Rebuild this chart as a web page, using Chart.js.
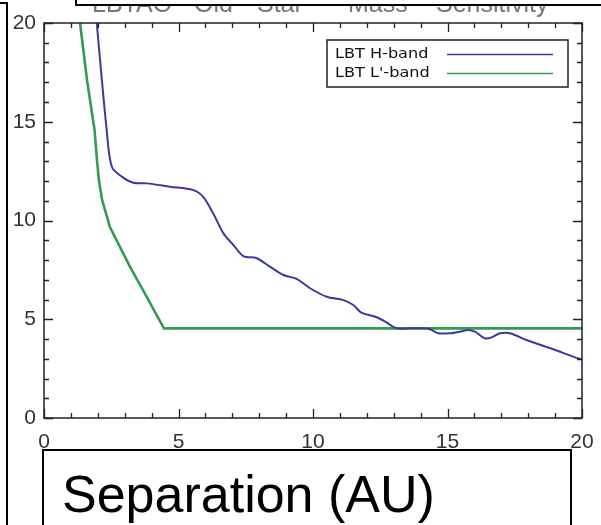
<!DOCTYPE html>
<html><head><meta charset="utf-8">
<script src="https://cdn.jsdelivr.net/npm/chart.js@4"></script>
<style>html,body{margin:0;padding:0;background:#fff;overflow:hidden;}</style>
</head><body>
<canvas id="c" width="601" height="525"></canvas>
<script>
// ---- data ----
const seriesNames = ["LBT H-band", "LBT L'-band"];
const hBandSep  = [1.96, 2.33, 2.52, 2.89, 3.32, 3.82, 4.68, 5.55, 5.92, 6.29, 6.67, 7.04, 7.41, 7.91, 8.40, 8.90, 9.39, 9.89, 10.51, 11.13, 11.50, 11.75, 11.87, 12.37, 12.74, 13.11, 13.61, 14.10, 14.35, 14.66, 15.09, 15.46, 15.77, 16.02, 16.39, 16.64, 16.95, 17.32, 17.94, 18.93, 19.86, 20.0];
const hBandMass = [20.0, 14.58, 12.72, 12.22, 11.91, 11.88, 11.71, 11.54, 11.20, 10.36, 9.35, 8.76, 8.20, 8.09, 7.66, 7.24, 7.04, 6.57, 6.14, 5.97, 5.72, 5.38, 5.30, 5.10, 4.83, 4.54, 4.54, 4.54, 4.49, 4.29, 4.29, 4.37, 4.46, 4.37, 4.03, 4.08, 4.29, 4.29, 3.95, 3.48, 3.02, 2.98];
const lBandSep  = [1.34, 1.60, 1.88, 1.97, 2.04, 2.16, 2.45, 2.94, 3.20, 3.68, 4.46, 20.0];
const lBandMass = [20.0, 17.1, 14.58, 13.06, 12.05, 11.04, 9.67, 8.35, 7.65, 6.48, 4.54, 4.54];
const xTickValues = [0, 5, 10, 15, 20];
const yTickValues = [0, 5, 10, 15, 20];
const titleWords = ["LBTAO", "Old", "Star", "Mass", "Sensitivity"];
const xAxisTitle = "Separation (AU)";

// ---- styles ----
const blueColor = "rgb(58,58,158)";
const greenColor = "rgb(52,156,82)";
const fontFamily = "'Liberation Sans', Arial, sans-serif";

const toPoints = (xs, ys) => xs.map((x, i) => ({x: x, y: ys[i]}));

const decorPlugin = {
  id: 'decor',
  afterDraw(chart) {
    const ctx = chart.ctx;
    const a = chart.chartArea;
    const xs = chart.scales.x, ys = chart.scales.y;
    ctx.save();
    // frame
    ctx.strokeStyle = '#222';
    ctx.lineWidth = 1.5;
    ctx.strokeRect(a.left, a.top, a.right - a.left, a.bottom - a.top);
    // inward ticks on all sides
    ctx.lineWidth = 1.3;
    ctx.beginPath();
    for (let v = xs.min; v <= xs.max; v += 1) {
      const px = Math.round(xs.getPixelForValue(v)) + 0.5;
      const len = (v % 5 === 0) ? 9 : 5;
      ctx.moveTo(px, a.bottom); ctx.lineTo(px, a.bottom - len);
      ctx.moveTo(px, a.top); ctx.lineTo(px, a.top + len);
    }
    for (let v = ys.min; v <= ys.max; v += 1) {
      const py = Math.round(ys.getPixelForValue(v)) + 0.5;
      const len = (v % 5 === 0) ? 9 : 5;
      ctx.moveTo(a.left, py); ctx.lineTo(a.left + len, py);
      ctx.moveTo(a.right, py); ctx.lineTo(a.right - len, py);
    }
    ctx.stroke();

    // legend box
    const lx = 327, ly = 40, lw = 241, lh = 47;
    ctx.lineWidth = 1.5;
    ctx.strokeStyle = '#222';
    ctx.strokeRect(lx, ly, lw, lh);
    chart.data.datasets.forEach((ds, i) => {
      const cy = 54 + i * 19;
      ctx.save();
      ctx.fillStyle = '#111';
      ctx.font = "14px 'DejaVu Sans', sans-serif";
      ctx.textBaseline = 'middle';
      ctx.translate(335, cy);
      ctx.scale(1.15, 1);
      ctx.fillText(ds.label, 0, 0);
      ctx.restore();
      ctx.strokeStyle = ds.borderColor;
      ctx.lineWidth = 1.6;
      ctx.beginPath();
      ctx.moveTo(447, cy + 0.5); ctx.lineTo(553, cy + 0.5);
      ctx.stroke();
    });

    // cut-off title
    ctx.fillStyle = '#777';
    ctx.font = "25px " + fontFamily;
    ctx.textBaseline = 'alphabetic';
    const tx = [92, 194, 257, 348, 436];
    titleWords.forEach((w, i) => ctx.fillText(w, tx[i], 12));
    ctx.fillStyle = '#fff';
    ctx.fillRect(75, 0, 526, 5);
    ctx.strokeStyle = '#000';
    ctx.lineWidth = 2;
    ctx.beginPath();
    ctx.moveTo(76, 0); ctx.lineTo(76, 5); ctx.lineTo(601, 5);
    ctx.stroke();

    // left border line
    ctx.beginPath();
    ctx.moveTo(0, 3); ctx.lineTo(7, 3); ctx.lineTo(7, 525);
    ctx.stroke();

    // bottom box with axis title
    ctx.fillStyle = '#fff';
    ctx.fillRect(43, 450, 528, 80);
    ctx.strokeRect(43, 450, 528, 80);
    ctx.fillStyle = '#000';
    ctx.font = "52px " + fontFamily;
    ctx.fillText(xAxisTitle, 62, 512);
    ctx.restore();
  }
};

new Chart(document.getElementById('c'), {
  type: 'scatter',
  data: {
    datasets: [
      { label: seriesNames[0], data: toPoints(hBandSep, hBandMass), showLine: true,
        borderColor: blueColor, borderWidth: 2, pointRadius: 0, tension: 0.3, fill: false },
      { label: seriesNames[1], data: toPoints(lBandSep, lBandMass), showLine: true,
        borderColor: greenColor, borderWidth: 2.6, pointRadius: 0, tension: 0, fill: false }
    ]
  },
  options: {
    responsive: false,
    animation: false,
    devicePixelRatio: 1,
    layout: { padding: { left: 0, right: 19, top: 23, bottom: 0 } },
    plugins: { legend: { display: false }, tooltip: { enabled: false }, title: { display: false } },
    scales: {
      x: {
        type: 'linear', min: 0, max: 20,
        afterBuildTicks: s => { s.ticks = xTickValues.map(v => ({value: v})); },
        afterFit: s => { s.height = 107; s.paddingRight = 0; s.paddingLeft = 0; },
        grid: { display: false, drawTicks: false },
        border: { display: false },
        ticks: { color: '#333', font: { family: fontFamily, size: 21 }, padding: 12, maxRotation: 0 }
      },
      y: {
        type: 'linear', min: 0, max: 20,
        afterBuildTicks: s => { s.ticks = yTickValues.map(v => ({value: v})); },
        afterFit: s => { s.width = 44; s.paddingTop = 0; s.paddingBottom = 0; },
        grid: { display: false, drawTicks: false },
        border: { display: false },
        ticks: { color: '#333', font: { family: fontFamily, size: 21 }, padding: 8 }
      }
    }
  },
  plugins: [decorPlugin]
});
</script>
</body></html>
